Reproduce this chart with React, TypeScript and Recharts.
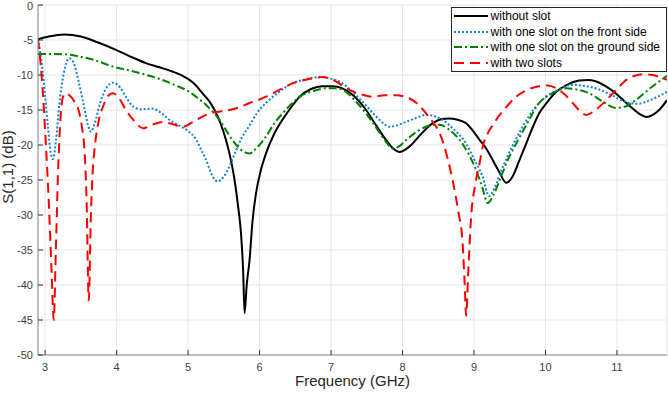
import React from 'react';
import { LineChart, Line, XAxis, YAxis, CartesianGrid, Legend } from 'recharts';

// Frequency sweep (GHz) and |S11| (dB) for each antenna variant
const freqNoSlot = [2.9, 3.05, 3.27, 3.5, 3.75, 3.99, 4.2, 4.41, 4.6, 4.78, 4.92, 5.02, 5.12, 5.2, 5.3, 5.37, 5.45, 5.53, 5.6, 5.65, 5.7, 5.74, 5.77, 5.79, 5.82, 5.86, 5.9, 5.95, 6.02, 6.09, 6.2, 6.32, 6.45, 6.56, 6.72, 6.88, 7.02, 7.16, 7.32, 7.49, 7.63, 7.77, 7.87, 7.96, 8.05, 8.14, 8.28, 8.42, 8.55, 8.65, 8.77, 8.89, 8.98, 9.08, 9.17, 9.28, 9.36, 9.45, 9.54, 9.63, 9.73, 9.82, 9.91, 10.03, 10.15, 10.3, 10.47, 10.6, 10.7, 10.84, 10.98, 11.1, 11.22, 11.32, 11.41, 11.5, 11.59, 11.7];
const s11NoSlot = [-4.9, -4.5, -4.2, -4.5, -5.4, -6.4, -7.4, -8.3, -8.9, -9.5, -10.1, -10.7, -11.6, -12.6, -13.8, -15, -16.8, -19.3, -22.2, -25, -28.8, -32.6, -38, -44, -40, -36.4, -31, -26.9, -23.5, -21.2, -18.5, -16.4, -14.5, -13.1, -12, -11.6, -11.6, -11.9, -13, -15, -17.2, -19.3, -20.5, -21, -20.6, -19.8, -18.2, -16.9, -16.3, -16.2, -16.4, -16.9, -17.9, -19.3, -20.5, -22.5, -24, -25.4, -24.5, -22.3, -19.8, -17.5, -15.5, -13.8, -12.4, -11.4, -10.8, -10.7, -10.9, -11.6, -12.6, -13.7, -14.8, -15.6, -16, -15.7, -15, -13.6];

const freqFront = [2.9, 2.96, 3.0, 3.04, 3.08, 3.11, 3.15, 3.2, 3.26, 3.34, 3.4, 3.47, 3.55, 3.6, 3.64, 3.69, 3.77, 3.86, 3.95, 4.05, 4.14, 4.23, 4.35, 4.5, 4.62, 4.74, 4.92, 5.0, 5.11, 5.18, 5.25, 5.33, 5.41, 5.5, 5.58, 5.67, 5.76, 5.86, 5.96, 6.09, 6.25, 6.46, 6.65, 6.84, 6.98, 7.12, 7.28, 7.44, 7.6, 7.72, 7.82, 7.92, 8.05, 8.2, 8.33, 8.45, 8.56, 8.72, 8.89, 9.0, 9.12, 9.21, 9.3, 9.4, 9.53, 9.68, 9.85, 10.01, 10.2, 10.38, 10.57, 10.76, 10.95, 11.17, 11.3, 11.41, 11.55, 11.7];
const s11Front = [-4.9, -9, -13, -17.5, -21.2, -22, -19.5, -14, -9.8, -7.6, -8.3, -11, -14.8, -17.2, -18.1, -17, -14, -11.8, -11.1, -11.8, -13.3, -14.5, -14.9, -14.8, -15.4, -16.4, -17.5, -18, -19.2, -20.6, -22.1, -24.2, -25.2, -24.5, -23, -20.8, -18.8, -17.2, -15.5, -14, -12.6, -11.2, -10.6, -10.3, -10.5, -10.95, -12.2, -13.8, -15.6, -16.8, -17.4, -17.2, -16.7, -16.1, -15.7, -15.9, -16.4, -17.8, -19.8, -22, -24.5, -27.3, -25.8, -23.2, -20.3, -17.4, -14.7, -13.1, -12, -11.4, -11.6, -12.1, -13, -14, -14.1, -13.8, -13.2, -12.4];

const freqGround = [2.9, 3.1, 3.29, 3.5, 3.7, 3.95, 4.2, 4.42, 4.64, 4.85, 5.0, 5.11, 5.2, 5.34, 5.44, 5.52, 5.62, 5.72, 5.86, 5.97, 6.09, 6.2, 6.32, 6.45, 6.56, 6.75, 6.93, 7.05, 7.16, 7.32, 7.49, 7.65, 7.78, 7.86, 7.95, 8.05, 8.2, 8.33, 8.45, 8.52, 8.65, 8.8, 8.92, 9.03, 9.12, 9.19, 9.27, 9.36, 9.47, 9.59, 9.75, 9.91, 10.1, 10.29, 10.45, 10.61, 10.8, 10.98, 11.12, 11.26, 11.45, 11.7];
const s11Ground = [-7.0, -7.0, -7.05, -7.4, -7.9, -8.8, -9.4, -10.0, -10.7, -11.6, -12.3, -13.1, -13.8, -15.2, -16.4, -17.7, -19.3, -20.5, -21.2, -20.3, -18.8, -17.0, -15.5, -14.1, -13.1, -12.3, -11.9, -11.9, -12.1, -13.5, -15.5, -17.8, -19.7, -20.5, -20.2, -19.3, -18.1, -17.4, -17.1, -17.1, -17.8, -19.3, -21.2, -23.6, -26.2, -28.3, -27.2, -25, -22.2, -19.8, -16.8, -14.0, -12.6, -11.9, -12.1, -12.6, -13.8, -14.7, -14.5, -13.6, -12.0, -10.1];

const freqTwo = [2.9, 2.95, 3.0, 3.05, 3.09, 3.12, 3.15, 3.18, 3.21, 3.25, 3.3, 3.34, 3.41, 3.48, 3.52, 3.55, 3.58, 3.61, 3.64, 3.67, 3.69, 3.75, 3.81, 3.88, 3.95, 4.04, 4.13, 4.25, 4.37, 4.5, 4.64, 4.78, 4.92, 5.1, 5.3, 5.45, 5.58, 5.72, 5.86, 6.0, 6.09, 6.28, 6.46, 6.68, 6.88, 7.05, 7.21, 7.4, 7.58, 7.75, 7.91, 8.03, 8.14, 8.24, 8.33, 8.43, 8.52, 8.62, 8.7, 8.78, 8.84, 8.87, 8.89, 8.92, 8.96, 9.02, 9.08, 9.12, 9.2, 9.26, 9.31, 9.45, 9.59, 9.75, 9.91, 10.03, 10.15, 10.27, 10.38, 10.48, 10.57, 10.7, 10.85, 11.0, 11.13, 11.25, 11.36, 11.5, 11.6, 11.7];
const s11Two = [-4.9, -10, -18, -28, -38, -45, -35, -24, -17, -13.1, -12.6, -12.9, -13.8, -15.5, -17.8, -20.7, -28, -42.2, -30, -23, -20.7, -16.5, -14.5, -13, -12.6, -13.4, -15, -16.6, -17.6, -17.1, -16.7, -17, -17.4, -16.5, -15.5, -15.2, -15, -14.6, -14, -13.5, -13.1, -12.1, -11.2, -10.6, -10.3, -10.8, -11.9, -12.7, -13.1, -12.9, -12.9, -13.1, -13.6, -14.4, -15.5, -16.8, -18.3, -21.5, -25, -29.5, -34, -40, -44.4, -38, -30.2, -25.5, -22.5, -20.3, -18.2, -17.2, -16.4, -14.6, -13.1, -12.1, -11.6, -11.5, -11.9, -12.8, -14, -15.1, -15.7, -15, -13.6, -12, -10.7, -10.1, -9.9, -10, -10.3, -10.7];

const xTicks = [3, 4, 5, 6, 7, 8, 9, 10, 11];
const yTicks = [-50, -45, -40, -35, -30, -25, -20, -15, -10, -5, 0];

const toPoints = (f: number[], s: number[]) => f.map((x, i) => ({ f: x, s11: s[i] }));

const SERIES = [
  { name: 'without slot', data: toPoints(freqNoSlot, s11NoSlot), color: '#000000', dash: undefined as string | undefined },
  { name: 'with one slot on the front side', data: toPoints(freqFront, s11Front), color: '#1680d2', dash: '2 2' },
  { name: 'with one slot on the ground side', data: toPoints(freqGround, s11Ground), color: '#008000', dash: '8 3 2 3' },
  { name: 'with two slots', data: toPoints(freqTwo, s11Two), color: '#ff0000', dash: '10 6' },
];

const FONT = '"Liberation Sans", Arial, Helvetica, sans-serif';
const tickStyle = { fontSize: 11, fill: '#404040', fontFamily: FONT };

const renderLegend = () => (
  <div
    style={{
      background: '#ffffff',
      border: '1px solid #262626',
      padding: '0 6px 0 1px',
      fontFamily: FONT,
      fontSize: 12,
      color: '#000',
    }}
  >
    {SERIES.map((s) => (
      <div key={s.name} style={{ display: 'flex', alignItems: 'center', height: 15.8, whiteSpace: 'nowrap' }}>
        <svg width={36} height={8} style={{ display: 'block' }}>
          <line x1={1} x2={35} y1={4} y2={4} stroke={s.color} strokeWidth={2} strokeDasharray={s.dash} />
        </svg>
        <span style={{ marginLeft: 2 }}>{s.name}</span>
      </div>
    ))}
  </div>
);

const XLabel = (props: any) => {
  const vb = props.viewBox || {};
  return (
    <text x={vb.x + vb.width / 2} y={vb.y + 30.5} textAnchor="middle" fontSize={15} fill="#262626" fontFamily={FONT}>
      Frequency (GHz)
    </text>
  );
};

const YLabel = (props: any) => {
  const vb = props.viewBox || {};
  const cx = vb.x + 13;
  const cy = vb.y + vb.height / 2 - 13;
  return (
    <text
      x={cx}
      y={cy}
      transform={`rotate(-90, ${cx}, ${cy})`}
      textAnchor="middle"
      fontSize={15}
      fill="#262626"
      fontFamily={FONT}
    >
      S(1,1) (dB)
    </text>
  );
};

export default function App() {
  return (
    <div style={{ position: 'absolute', left: 0, top: 0, background: '#fff' }}>
      <LineChart width={668} height={394} margin={{ top: 5, right: 1, bottom: 0, left: 0 }}>
        <CartesianGrid stroke="#e6e6e6" strokeWidth={1} />
        <XAxis
          type="number"
          dataKey="f"
          domain={[2.9, 11.7]}
          ticks={xTicks}
          allowDataOverflow
          height={39}
          tick={tickStyle}
          tickSize={-5}
          tickMargin={13}
          axisLine={{ stroke: '#8a8a8a' }}
          tickLine={{ stroke: '#333333' }}
          label={<XLabel />}
        />
        <XAxis
          xAxisId="top"
          orientation="top"
          type="number"
          domain={[2.9, 11.7]}
          ticks={xTicks}
          allowDataOverflow
          height={0}
          tick={false}
          tickSize={-5}
          axisLine={{ stroke: '#8a8a8a' }}
          tickLine={{ stroke: '#333333' }}
        />
        <YAxis
          type="number"
          domain={[-50, 0]}
          ticks={yTicks}
          allowDataOverflow
          width={38}
          tick={tickStyle}
          tickSize={-5}
          tickMargin={10}
          axisLine={{ stroke: '#8a8a8a' }}
          tickLine={{ stroke: '#333333' }}
          label={<YLabel />}
        />
        <YAxis
          yAxisId="right"
          orientation="right"
          type="number"
          domain={[-50, 0]}
          ticks={yTicks}
          allowDataOverflow
          width={0}
          tick={false}
          tickSize={-5}
          axisLine={{ stroke: '#8a8a8a' }}
          tickLine={{ stroke: '#333333' }}
        />
        <Legend
          layout="vertical"
          align="center"
          verticalAlign="middle"
          content={renderLegend}
          wrapperStyle={{ top: 7, right: 1, left: 'auto', width: 'auto', height: 'auto' }}
        />
        {SERIES.map((s) => (
          <Line
            key={s.name}
            name={s.name}
            data={s.data}
            dataKey="s11"
            type="monotone"
            stroke={s.color}
            strokeWidth={2}
            strokeDasharray={s.dash}
            dot={false}
            activeDot={false}
            isAnimationActive={false}
          />
        ))}
      </LineChart>
    </div>
  );
}
